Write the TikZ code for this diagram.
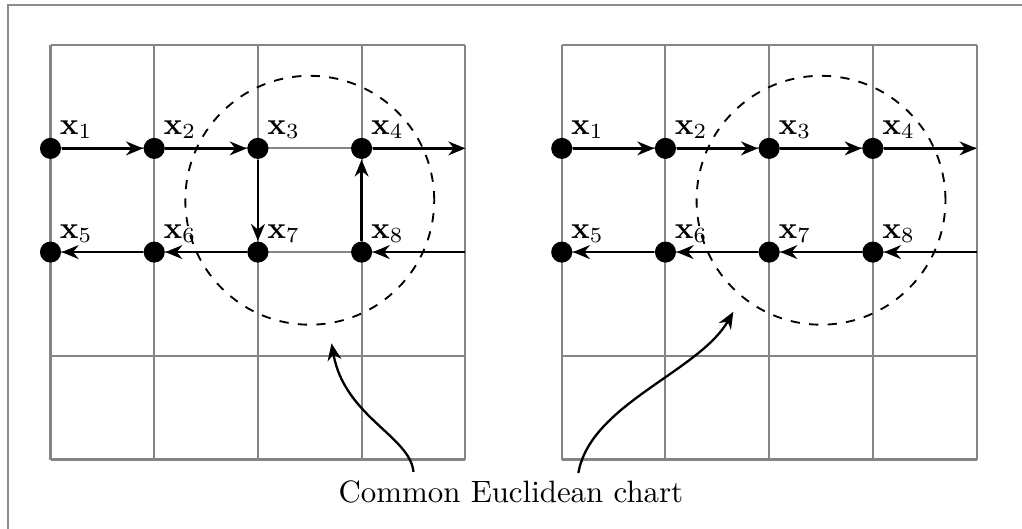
\documentclass[tikz,border=0pt]{standalone}
\usepackage{amsmath}
\usetikzlibrary{arrows.meta}

\begin{document}
\begin{tikzpicture}[
  x=1.18cm, y=1.18cm,
  >=Stealth,
  cellgrid/.style={draw=black!48, line width=0.65pt, step={(1,1)}},
  outerframe/.style={draw=black!45, line width=0.65pt},
  site/.style={circle, fill=black, inner sep=0pt, minimum size=0.24cm,
    label={[anchor=south west, inner sep=0.3pt]45:$\mathbf{x}_{#1}$}},
  flow/.style={line width=0.75pt, -{Stealth[length=5.5pt, width=4.5pt, inset=1.8pt]}},
  region/.style={dashed, line width=0.6pt},
  pointer/.style={line width=0.75pt, -{Stealth[length=5.5pt, width=4.5pt, inset=1.8pt]}}
]

\clip (-0.487,-0.670) rectangle (9.368,4.431);
\draw[outerframe] (-0.41,4.383) rectangle (10,-1);

% left chart
\draw[cellgrid] (0,0) grid (4,4);
\node[site=1] (a1) at (0,3) {};
\node[site=2] (a2) at (1,3) {};
\node[site=3] (a3) at (2,3) {};
\node[site=4] (a4) at (3,3) {};
\node[site=5] (a5) at (0,2) {};
\node[site=6] (a6) at (1,2) {};
\node[site=7] (a7) at (2,2) {};
\node[site=8] (a8) at (3,2) {};
\coordinate (a4out) at (4,3);
\coordinate (a8in) at (4,2);
\draw[flow] (a1) -- (a2);
\draw[flow] (a2) -- (a3);
\draw[flow] (a3) -- (a7);
\draw[flow] (a8) -- (a4);
\draw[flow] (a4) -- (a4out);
\draw[flow] (a8in) -- (a8);
\draw[flow] (a7) -- (a6);
\draw[flow] (a6) -- (a5);
\draw[region] (2.5,2.5) circle (1.2);

% right chart
\begin{scope}[shift={(4.93,0)}]
\draw[cellgrid] (0,0) grid (4,4);
\node[site=1] (b1) at (0,3) {};
\node[site=2] (b2) at (1,3) {};
\node[site=3] (b3) at (2,3) {};
\node[site=4] (b4) at (3,3) {};
\node[site=5] (b5) at (0,2) {};
\node[site=6] (b6) at (1,2) {};
\node[site=7] (b7) at (2,2) {};
\node[site=8] (b8) at (3,2) {};
\coordinate (b4out) at (4,3);
\coordinate (b8in) at (4,2);
\draw[flow] (b1) -- (b2);
\draw[flow] (b2) -- (b3);
\draw[flow] (b3) -- (b4);
\draw[flow] (b4) -- (b4out);
\draw[flow] (b8in) -- (b8);
\draw[flow] (b8) -- (b7);
\draw[flow] (b7) -- (b6);
\draw[flow] (b6) -- (b5);
\draw[region] (2.5,2.5) circle (1.2);
\end{scope}

% caption and pointers
\node[anchor=base] (caption) at (4.44,-0.413) {Common Euclidean chart};
\coordinate (srcL) at (3.5,-0.12);
\coordinate (tipL) at (2.71,1.12);
\coordinate (srcR) at (5.09,-0.13);
\coordinate (tipR) at (6.585,1.425);
\draw[pointer] (srcL) to[out=95, in=-80, out looseness=0.6, in looseness=1.25] (tipL);
\draw[pointer] (srcR) to[out=80, in=-120, looseness=0.8] (tipR);

\end{tikzpicture}
\end{document}
